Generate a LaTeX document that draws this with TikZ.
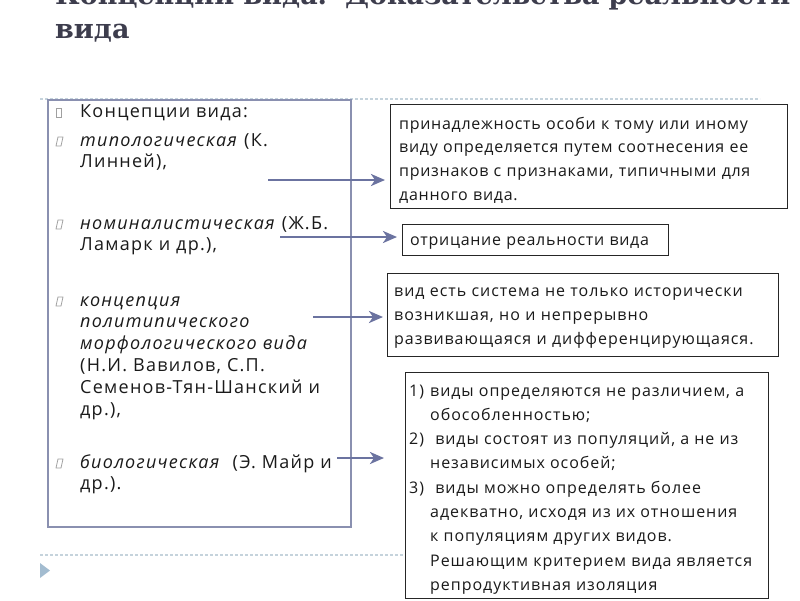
\documentclass[tikz,border=0pt]{standalone}
\usepackage{fontspec}
\setmainfont{Open Sans}
\newfontfamily\titlefont{DejaVu Serif}
\usetikzlibrary{arrows.meta}
\definecolor{arrowc}{HTML}{6B73A0}
\definecolor{lboxc}{HTML}{8A90B0}
\definecolor{dotc}{HTML}{C5D3DC}
\definecolor{titlec}{HTML}{3D3D4D}
\definecolor{trianglec}{HTML}{A3BCD0}
\definecolor{bulletc}{HTML}{A0A0A0}
\definecolor{textc}{HTML}{1A1A1A}
\begin{document}
\begin{tikzpicture}[x=1pt,y=-1pt,
  dotline/.style={dotc, line width=1.2pt, dash pattern=on 3pt off 2pt},
  rbox/.style={draw=black!85, line width=1.3pt, fill=white, anchor=north west, inner sep=0pt},
  lbox/.style={draw=lboxc, line width=2pt, fill=white, anchor=north west, inner sep=0pt},
  conn/.style={arrowc, line width=2.5pt, -{Stealth[length=14pt,width=12pt,inset=4pt]}},
  ltext/.style={anchor=base west, inner sep=0pt, align=left, text width=280pt, font=\addfontfeature{LetterSpace=7}\fontsize{18}{21.8}\selectfont, text=textc},
  rtext/.style={anchor=base west, inner sep=0pt, align=left, text width=390pt, font=\addfontfeature{LetterSpace=4.5}\fontsize{16}{23.7}\selectfont, text=textc},
  bul/.style={draw=bulletc, line width=0.8pt},
]
\useasboundingbox (0,0) rectangle (800,600);
% title
\node[anchor=base west, inner sep=0pt, align=left, text width=760pt, text=titlec,
      font=\titlefont\bfseries\fontsize{27}{34}\selectfont] (title) at (55,4)
  {Концепции вида.\ \ Доказательства реальности\\вида};
% dotted rules
\coordinate (d1a) at (40,99);  \coordinate (d1b) at (760,99);
\coordinate (d2a) at (40,555); \coordinate (d2b) at (760,555);
\draw[dotline] (d1a) -- (d1b);
\draw[dotline] (d2a) -- (d2b);
\fill[trianglec] (40,563) -- (50,570.5) -- (40,578) -- cycle;
% left box
\node[lbox, minimum width=303pt, minimum height=427pt] (lb) at (47,99) {};
% bullets
\draw[bul] (56,108) rectangle (61,117);
\draw[bul] (56,146) -- (61,146) -- (63,137) -- (58,137) -- cycle;
\draw[bul] (56,229) -- (61,229) -- (63,220) -- (58,220) -- cycle;
\draw[bul] (56,306) -- (61,306) -- (63,297) -- (58,297) -- cycle;
\draw[bul] (56,468) -- (61,468) -- (63,459) -- (58,459) -- cycle;
% left texts
\node[ltext] (l1) at (80,117) {Концепции вида:};
\node[ltext] (l2) at (80,146) {\textit{типологическая} (К.\\Линней),};
\node[ltext] (l3) at (80,229) {\textit{номиналистическая} (Ж.Б.\\Ламарк и др.),};
\node[ltext] (l4) at (80,306) {\textit{концепция\\политипического\\морфологического вида}\\(Н.И. Вавилов, С.П.\\Семенов-Тян-Шанский и\\др.),};
\node[ltext] (l5) at (80,468) {\textit{биологическая}\ \ (Э. Майр и\\др.).};
% right boxes
\node[rbox, minimum width=397pt, minimum height=104pt] (b1) at (390,104) {};
\node[rbox, minimum width=266pt, minimum height=31pt] (b2) at (402,224) {};
\node[rbox, minimum width=391pt, minimum height=83pt] (b3) at (387,273) {};
\node[rbox, minimum width=363pt, minimum height=226pt] (b4) at (405,372) {};
% right texts
\node[rtext] (t1) at (399,129) {принадлежность особи к тому или иному\\виду определяется путем соотнесения ее\\признаков с признаками, типичными для\\данного вида.};
\node[rtext] (t2) at (410,245) {отрицание реальности вида};
\node[rtext, font=\addfontfeature{LetterSpace=6}\fontsize{16}{24}\selectfont] (t3) at (394,296) {вид есть система не только исторически\\возникшая, но и непрерывно\\развивающаяся и дифференцирующаяся.};
\node[anchor=base west, inner sep=0pt, font=\addfontfeature{LetterSpace=6}\fontsize{16}{24.3}\selectfont, text=textc] (t4) at (409,396)
  {\begin{tabular}[t]{@{}p{21pt}@{}l@{}}
   1) & виды определяются не различием, а\\
      & обособленностью;\\
   2) & \ виды состоят из популяций, а не из\\
      & независимых особей;\\
   3) & \ виды можно определять более\\
      & адекватно, исходя из их отношения\\
      & к популяциям других видов.\\
      & Решающим критерием вида является\\
      & репродуктивная изоляция
  \end{tabular}};
% connectors
\coordinate (s1) at (268,180);
\coordinate (s2) at (280,237);
\coordinate (s3) at (313,317);
\coordinate (s4) at (337,458);
\draw[conn, shorten >=5pt] (s1) -- (s1 -| b1.west);
\draw[conn, shorten >=5pt] (s2) -- (s2 -| b2.west);
\draw[conn, shorten >=4pt] (s3) -- (s3 -| b3.west);
\draw[conn, shorten >=21pt] (s4) -- (s4 -| b4.west);
\end{tikzpicture}
\end{document}
